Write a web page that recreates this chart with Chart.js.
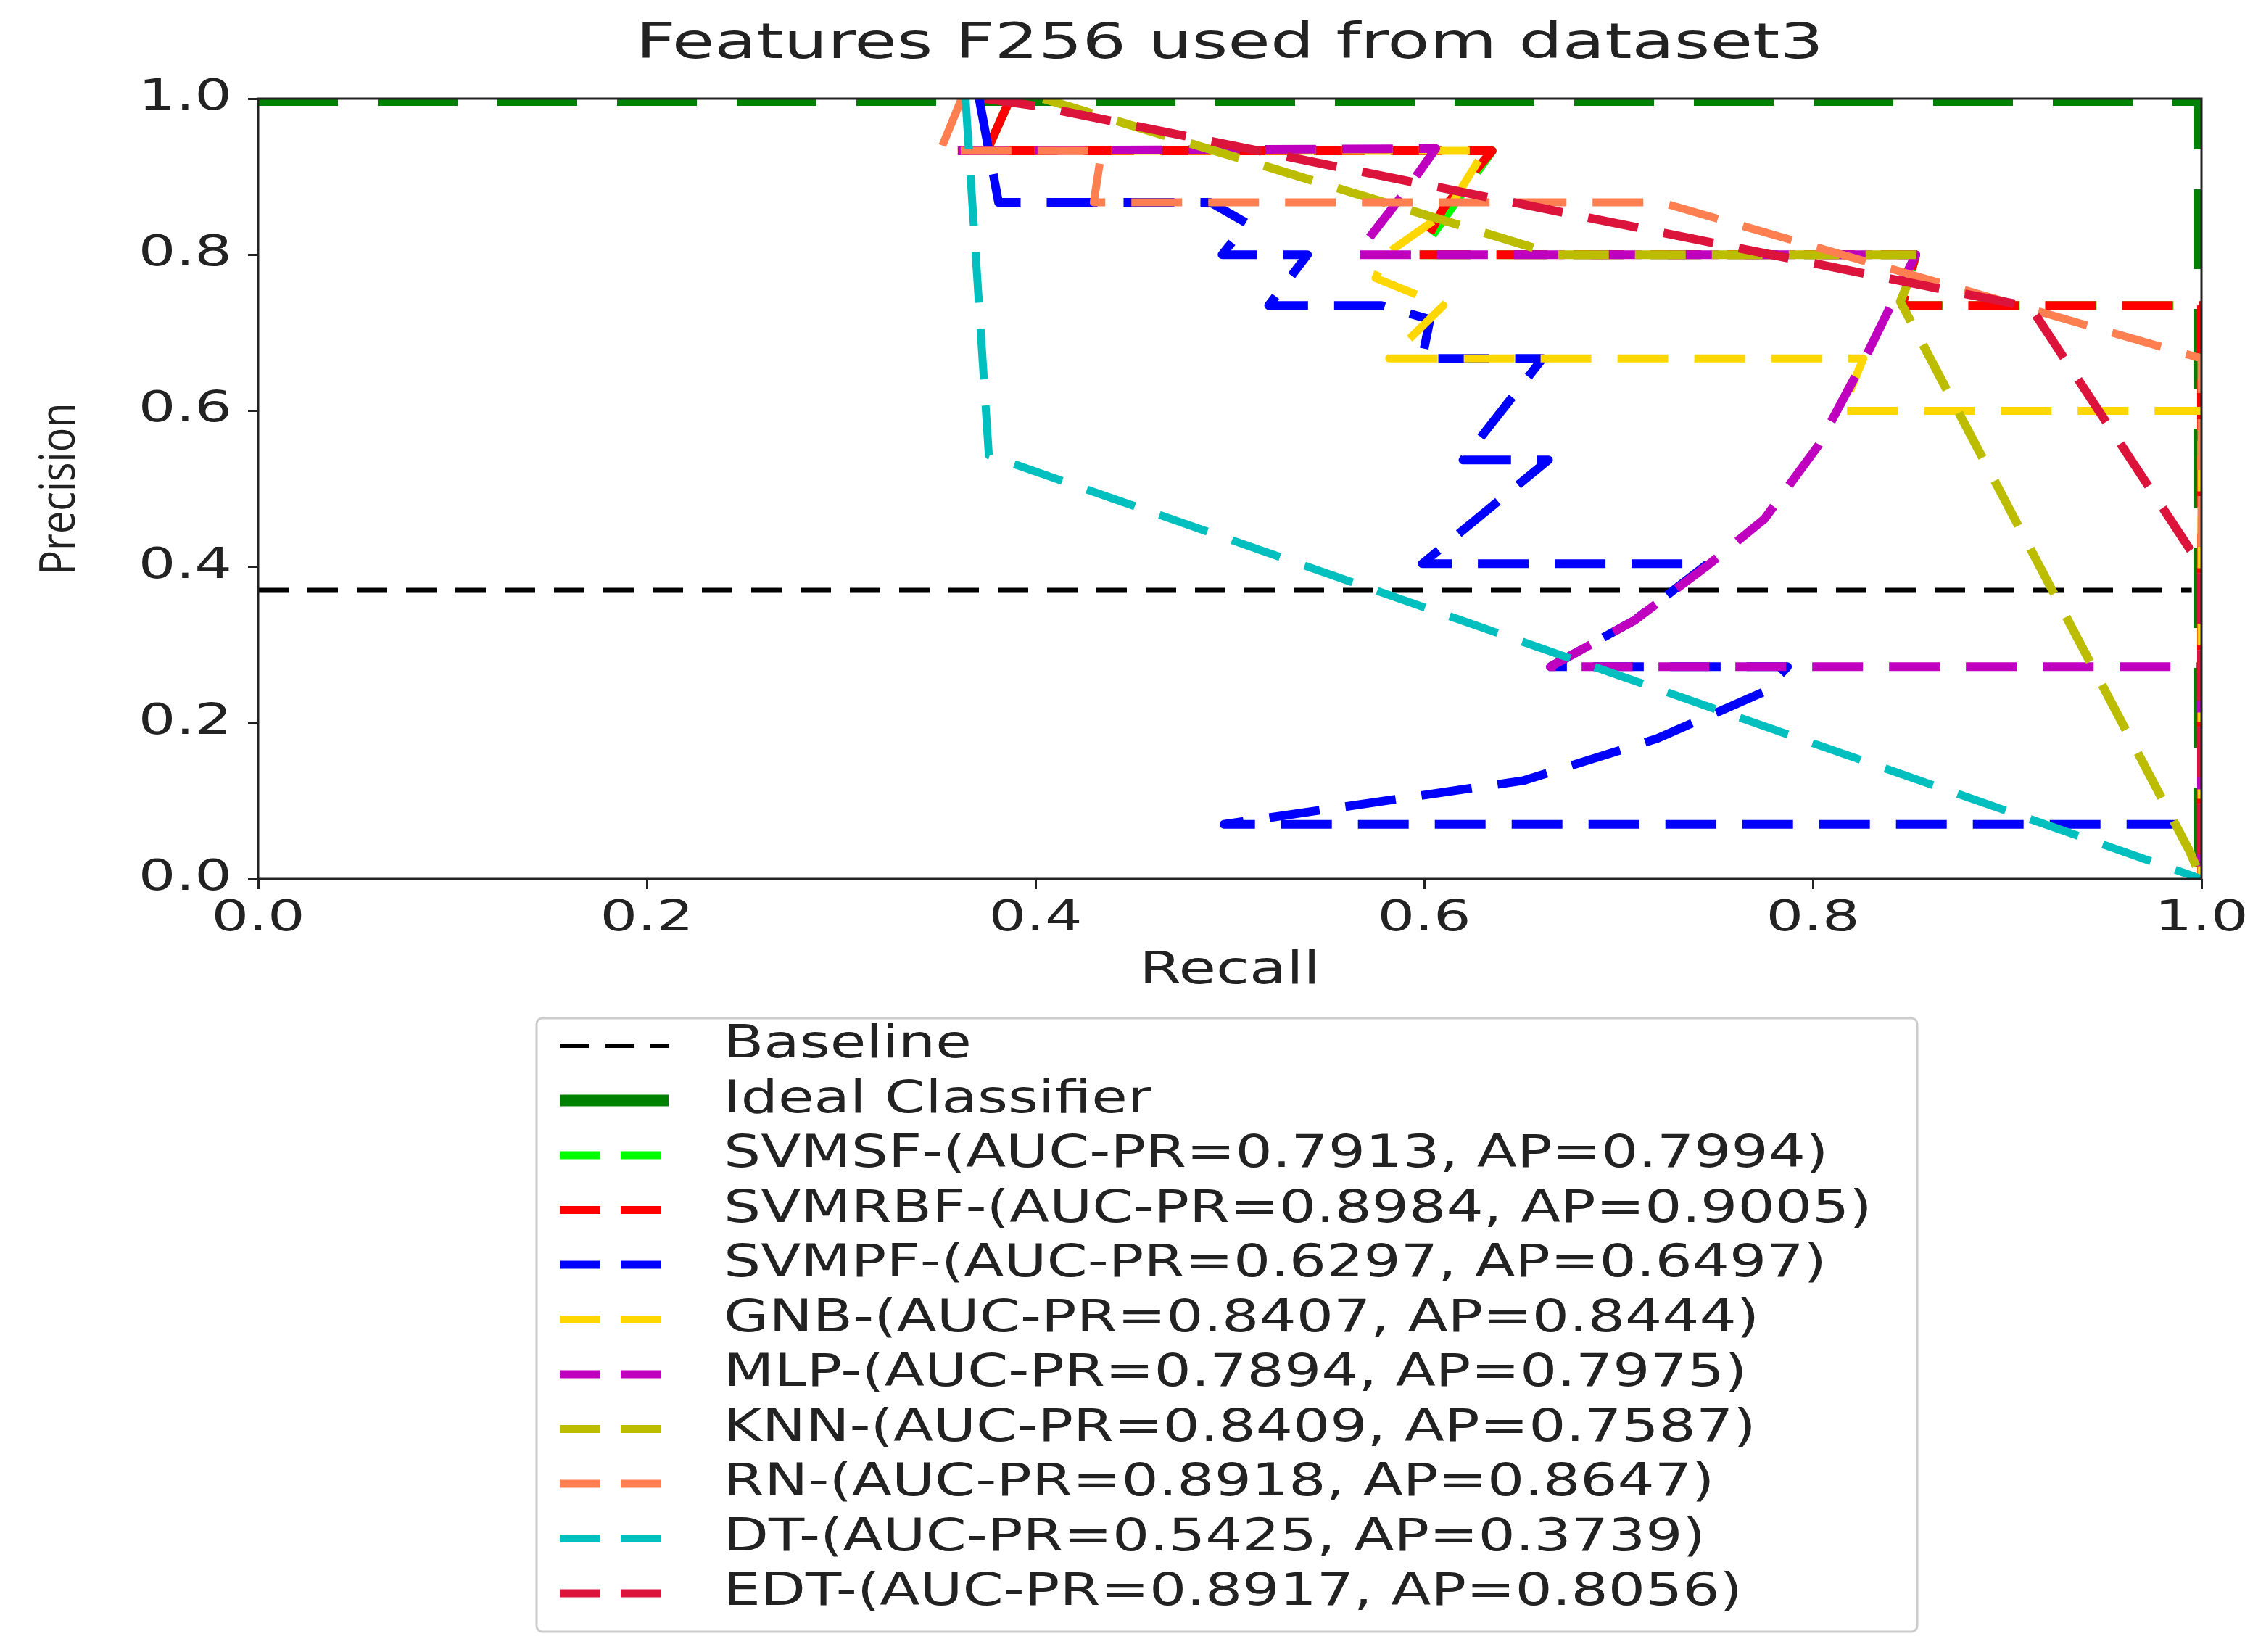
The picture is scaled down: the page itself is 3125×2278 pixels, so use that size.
<!DOCTYPE html>
<html><head><meta charset="utf-8">
<script src="https://cdn.jsdelivr.net/npm/chart.js@4.4.1/dist/chart.umd.min.js"></script>
<style>html,body{margin:0;padding:0;background:#fff}canvas{display:block}</style>
</head><body>
<canvas id="c" width="3125" height="2278" style="width:3125px;height:2278px"></canvas>
<script>
const titleText = "Features F256 used from dataset3";
const xTicks = [0, 0.2, 0.4, 0.6, 0.8, 1.0];
const yTicks = [0, 0.2, 0.4, 0.6, 0.8, 1.0];
const seriesNames = ["Baseline","Ideal Classifier",
 "SVMSF-(AUC-PR=0.7913, AP=0.7994)","SVMRBF-(AUC-PR=0.8984, AP=0.9005)",
 "SVMPF-(AUC-PR=0.6297, AP=0.6497)","GNB-(AUC-PR=0.8407, AP=0.8444)",
 "MLP-(AUC-PR=0.7894, AP=0.7975)","KNN-(AUC-PR=0.8409, AP=0.7587)",
 "RN-(AUC-PR=0.8918, AP=0.8647)","DT-(AUC-PR=0.5425, AP=0.3739)",
 "EDT-(AUC-PR=0.8917, AP=0.8056)"];
const baseline = [[0,0.37],[0.995,0.37]];
const ideal = [[0,1],[1,1],[1,0]];
const svmsf = [[0.387,1.0],[0.375,0.933],[0.635,0.933],[0.597,0.8],[0.853,0.8],[0.846,0.735],[1.0,0.735],[1.0,0]];
const svmrbf = [[0.387,1.0],[0.375,0.933],[0.635,0.933],[0.61,0.86],[0.597,0.8],[0.853,0.8],[0.846,0.735],[1.0,0.735],[1.0,0]];
const svmpf = [[0.371,1.0],[0.381,0.867],[0.49,0.867],[0.509,0.84],[0.496,0.8],[0.54,0.8],[0.52,0.735],[0.578,0.735],[0.603,0.717],[0.599,0.667],[0.661,0.667],[0.62,0.537],[0.664,0.537],[0.599,0.404],[0.746,0.404],[0.708,0.331],[0.665,0.272],[0.787,0.272],[0.775,0.24],[0.72,0.18],[0.651,0.126],[0.497,0.07],[1.0,0.07]];
const gnb = [[0.36,0.933],[0.631,0.933],[0.612,0.856],[0.58,0.8],[0.575,0.77],[0.61,0.735],[0.582,0.667],[0.826,0.667],[0.815,0.6],[1.0,0.6],[1.0,0]];
const mlp = [[0.36,0.933],[0.606,0.936],[0.59,0.88],[0.565,0.8],[0.853,0.8],[0.827,0.668],[0.803,0.556],[0.775,0.461],[0.746,0.402],[0.708,0.331],[0.665,0.272],[1.0,0.272],[1.0,0]];
const knn = [[0.404,1.0],[0.668,0.8],[0.855,0.8],[0.845,0.74],[0.994,0.035],[1.0,0]];
const rn = [[0.362,1.0],[0.351,0.933],[0.434,0.933],[0.43,0.867],[0.722,0.867],[1.0,0.667],[1.0,0]];
const dt = [[0.364,1.0],[0.376,0.543],[1.0,0.0]];
const edt = [[0.374,1.0],[0.402,0.99],[0.858,0.76],[0.912,0.733],[1.0,0.4],[1.0,0]];

const PL=356, PR=3036, PT=136, PB=1212;
const styles = [
 {data:baseline,color:'#000000',w:7,dash:[42,26]},
 {data:ideal,color:'#008000',w:20,dash:[110,55]},
 {data:svmsf,color:'#00ff00',w:12,dash:[70,36]},
 {data:svmrbf,color:'#ff0000',w:12,dash:[70,36]},
 {data:svmpf,color:'#0000ff',w:12,dash:[70,36]},
 {data:gnb,color:'#ffd700',w:11,dash:[70,36]},
 {data:mlp,color:'#bf00bf',w:12,dash:[70,36]},
 {data:knn,color:'#bcbd00',w:12,dash:[70,36]},
 {data:rn,color:'#ff7f50',w:11,dash:[70,36]},
 {data:dt,color:'#00bfbf',w:11,dash:[70,36]},
 {data:edt,color:'#dc143c',w:12,dash:[70,36]}
];
const datasets = styles.map((s,i)=>({label:seriesNames[i],data:s.data.map(p=>({x:p[0],y:p[1]})),
  borderColor:s.color,backgroundColor:s.color,borderWidth:s.w,borderDash:s.dash,order:100-i,
  pointRadius:0,fill:false,tension:0,showLine:true,borderCapStyle:'butt',borderJoinStyle:'round'}));

const FONT='"DejaVu Sans", sans-serif';
function stext(ctx,t,x,y,size,sx,align){
  ctx.save(); ctx.translate(x,y); ctx.scale(sx,1);
  ctx.font=size+'px '+FONT; ctx.textAlign=align||'center'; ctx.textBaseline='middle';
  ctx.fillText(t,0,0); ctx.restore();
}
const deco = {id:'deco',
 afterDraw(chart){
  const ctx=chart.ctx; ctx.save();
  ctx.strokeStyle='#222'; ctx.lineWidth=3; ctx.setLineDash([]);
  ctx.strokeRect(PL,PT,PR-PL,PB-PT);
  ctx.fillStyle='#222';
  stext(ctx,titleText,(PL+PR)/2,62,68,1.4);
  stext(ctx,'Recall',(PL+PR)/2,1340,62,1.35);
  const xs=chart.scales.x, ys=chart.scales.y;
  xTicks.forEach(v=>stext(ctx,v.toFixed(1),xs.getPixelForValue(v),1268,58,1.4));
  yTicks.forEach(v=>stext(ctx,v.toFixed(1),320,ys.getPixelForValue(v),58,1.4,'right'));
  ctx.save(); ctx.translate(84,(PT+PB)/2); ctx.rotate(-Math.PI/2);
  ctx.font='62px "Liberation Sans Narrow", "Open Sans", sans-serif'; ctx.textAlign='center'; ctx.textBaseline='middle';
  ctx.scale(0.9,1.1); ctx.fillText('Precision',0,0); ctx.restore();
  const bx=740,by=1404,bw=1904,bh=846;
  ctx.strokeStyle='#ccc'; ctx.lineWidth=3; ctx.fillStyle='#fff';
  ctx.beginPath(); ctx.roundRect(bx,by,bw,bh,8); ctx.fill(); ctx.stroke();
  styles.forEach((s,i)=>{
   const y=by+38+i*75.5;
   ctx.strokeStyle=s.color; ctx.lineWidth=i==1?16:(i==0?6:11);
   ctx.setLineDash(i==1?[]:(i==0?[40,22]:[56,28]));
   ctx.beginPath(); ctx.moveTo(772,y); ctx.lineTo(922,y); ctx.stroke();
   ctx.setLineDash([]); ctx.fillStyle='#222'; stext(ctx,seriesNames[i],998,y,62,1.3,'left');
  });
  ctx.restore();
 }};

new Chart(document.getElementById('c'),{
 type:'scatter',
 data:{datasets},
 options:{responsive:false,animation:false,devicePixelRatio:1,
  layout:{padding:{top:PT,right:3125-PR,left:0,bottom:0}},
  plugins:{legend:{display:false},title:{display:false},tooltip:{enabled:false}},
  scales:{
   x:{type:'linear',min:0,max:1,afterBuildTicks:s=>{s.ticks=xTicks.map(v=>({value:v}));},
      afterFit:s=>{s.height=2278-PB;},
      grid:{drawOnChartArea:false,drawTicks:true,tickLength:14,color:'#222',lineWidth:3},
      border:{display:false},
      ticks:{display:false}},
   y:{type:'linear',min:0,max:1,afterBuildTicks:s=>{s.ticks=yTicks.map(v=>({value:v}));},
      afterFit:s=>{s.width=PL;},
      grid:{drawOnChartArea:false,drawTicks:true,tickLength:14,color:'#222',lineWidth:3},
      border:{display:false},
      ticks:{display:false}}
  }},
 plugins:[deco]
});
</script></body></html>
